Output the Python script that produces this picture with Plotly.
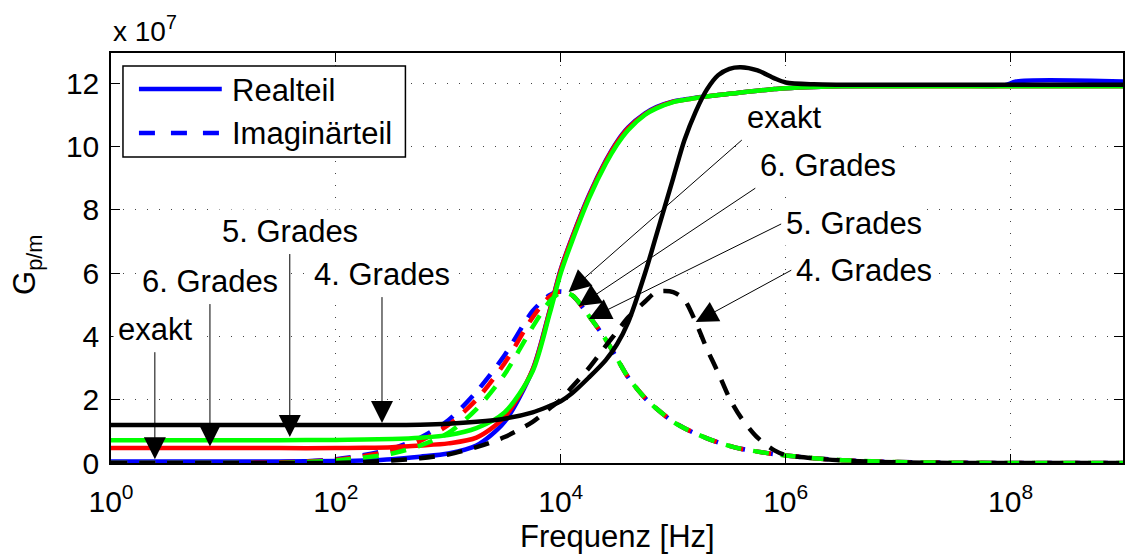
import plotly.graph_objects as go

# Frequency grid in Hz
freq = [1, 10, 31.6, 100, 178, 316, 562, 1000, 1778, 3162, 5623, 7943,
        10000, 12589, 17783, 25119, 31623, 39811, 56234, 70795, 100000,
        125893, 158489, 199526, 251189, 316228, 398107, 562341, 794328,
        1e6, 1.778e6, 3.162e6, 1e7, 3.162e7, 8.9e7, 1.12e8, 1e9]

# G_p/m in units of 1e7 -- real parts
real_exakt = [0.05, 0.05, 0.05, 0.06, 0.08, 0.12, 0.2, 0.3, 0.55, 1.3, 2.95, 4.8,
              6.12, 7.12, 8.45, 9.55, 10.15, 10.6, 11.04, 11.24, 11.42, 11.48, 11.54,
              11.58, 11.62, 11.66, 11.7, 11.76, 11.81, 11.84, 11.88, 11.9, 11.91,
              11.92, 11.93, 12.05, 12.05]
real_grad6 = [0.47, 0.47, 0.47, 0.47, 0.48, 0.5, 0.55, 0.62, 0.8, 1.45, 2.95, 4.78,
              6.1, 7.1, 8.42, 9.52, 10.12, 10.58, 11.02, 11.22, 11.41, 11.47, 11.53,
              11.58, 11.62, 11.66, 11.7, 11.76, 11.81, 11.84, 11.88, 11.9, 11.9,
              11.9, 11.9, 11.9, 11.9]
real_grad5 = [0.72, 0.72, 0.72, 0.73, 0.74, 0.76, 0.8, 0.88, 1.1, 1.6, 2.9, 4.7,
              6.0, 7.0, 8.35, 9.45, 10.05, 10.52, 11.0, 11.2, 11.4, 11.47, 11.53,
              11.58, 11.62, 11.66, 11.7, 11.76, 11.81, 11.84, 11.88, 11.9, 11.9,
              11.9, 11.9, 11.9, 11.9]
real_grad4 = [1.2, 1.2, 1.2, 1.2, 1.2, 1.2, 1.21, 1.24, 1.3, 1.4, 1.6, 1.8,
              1.95, 2.2, 2.7, 3.25, 3.75, 4.45, 6.0, 7.2, 9.0, 10.2, 11.1,
              11.8, 12.25, 12.45, 12.5, 12.4, 12.15, 12.02, 11.96, 11.95, 11.95,
              11.95, 11.95, 11.95, 11.95]

# G_p/m in units of 1e7 -- imaginary parts
imag_exakt = [0.0, 0.0, 0.02, 0.12, 0.25, 0.45, 0.8, 1.35, 2.25, 3.4, 4.8, 5.3,
              5.42, 5.3, 4.65, 3.9, 3.3, 2.7, 2.05, 1.72, 1.3, 1.1, 0.93,
              0.78, 0.65, 0.54, 0.45, 0.36, 0.28, 0.24, 0.15, 0.09, 0.03,
              0.01, 0.0, 0.0, 0.0]
imag_grad6 = [0.0, 0.0, 0.02, 0.1, 0.22, 0.4, 0.7, 1.2, 2.0, 3.15, 4.6, 5.25,
              5.42, 5.3, 4.65, 3.9, 3.3, 2.7, 2.05, 1.72, 1.3, 1.1, 0.93,
              0.78, 0.65, 0.54, 0.45, 0.36, 0.28, 0.24, 0.15, 0.09, 0.03,
              0.01, 0.0, 0.0, 0.0]
imag_grad5 = [0.0, 0.0, 0.0, 0.08, 0.17, 0.3, 0.55, 0.95, 1.7, 2.8, 4.3, 5.1,
              5.38, 5.3, 4.65, 3.9, 3.3, 2.7, 2.05, 1.72, 1.3, 1.1, 0.93,
              0.78, 0.65, 0.54, 0.45, 0.36, 0.28, 0.24, 0.15, 0.09, 0.03,
              0.01, 0.0, 0.0, 0.0]
imag_grad4 = [0.0, 0.0, 0.0, 0.0, 0.03, 0.08, 0.15, 0.27, 0.5, 0.82, 1.3, 1.72,
              2.0, 2.4, 3.0, 3.7, 4.15, 4.6, 5.1, 5.4, 5.4, 5.15, 4.45,
              3.6, 2.85, 2.05, 1.45, 0.8, 0.4, 0.25, 0.15, 0.08, 0.02,
              0.0, 0.0, 0.0, 0.0]

series = [
    ("exakt", "#0000ff", real_exakt, imag_exakt),
    ("6. Grades", "#ff0000", real_grad6, imag_grad6),
    ("5. Grades", "#00ff00", real_grad5, imag_grad5),
    ("4. Grades", "#000000", real_grad4, imag_grad4),
]

y_ticks = [0, 2, 4, 6, 8, 10, 12]
x_ticks = [1, 100, 1e4, 1e6, 1e8]
x_ticktext = ["10<sup>0</sup>", "10<sup>2</sup>", "10<sup>4</sup>",
              "10<sup>6</sup>", "10<sup>8</sup>"]

FONT = "Liberation Sans, Arial, Helvetica, sans-serif"
LW = 4.5
DASH = "16px,12px"

fig = go.Figure()
for name, color, re_vals, im_vals in series:
    fig.add_trace(go.Scatter(x=freq, y=re_vals, mode="lines", name=name,
                             line=dict(color=color, width=LW, shape="spline", smoothing=0.8),
                             showlegend=False))
    fig.add_trace(go.Scatter(x=freq, y=im_vals, mode="lines", name=name,
                             line=dict(color=color, width=LW, dash=DASH, shape="spline", smoothing=0.8),
                             showlegend=False))

axis_common = dict(
    showline=True, linecolor="black", linewidth=1.5, mirror="ticks",
    ticks="inside", ticklen=9, tickwidth=1.2, tickcolor="black",
    showgrid=True, gridcolor="#444444", gridwidth=1, griddash="1px,11px",
    zeroline=False, tickfont=dict(family=FONT, size=30, color="black"),
)

fig.update_xaxes(type="log", range=[0, 9], tickvals=x_ticks, ticktext=x_ticktext,
                 ticklabelstandoff=11, **axis_common)
fig.update_yaxes(range=[0, 12.95], tickvals=y_ticks, ticklabelstandoff=4, **axis_common)

annotations = []

# Labelled arrows: text, head (log10 f, value), tail (log10 f, value), box anchor at tail
arrow_labels = [
    ("exakt",     0.39, 0.12, 0.39, 3.5,   "center", "bottom"),
    ("6. Grades", 0.88, 0.52, 0.88, 5.02,  "center", "bottom"),
    ("5. Grades", 1.59, 0.82, 1.59, 6.6,   "center", "bottom"),
    ("4. Grades", 2.41, 1.26, 2.41, 5.24,  "center", "bottom"),
    ("exakt",     4.07, 5.4,  5.61, 10.2,  "left",   "bottom"),
    ("6. Grades", 4.16, 4.96, 5.73, 8.68,  "left",   "bottom"),
    ("5. Grades", 4.25, 4.55, 5.96, 7.55,  "left",   "middle"),
    ("4. Grades", 5.20, 4.45, 6.05, 6.09,  "left",   "middle"),
]
for txt, tx, ty, sx, sy, xa, ya in arrow_labels:
    annotations.append(dict(x=tx, y=ty, ax=sx, ay=sy, xref="x", yref="y",
                            axref="x", ayref="y", text=txt, showarrow=True,
                            xanchor=xa, yanchor=ya, bgcolor="white", borderpad=4,
                            arrowhead=2, arrowsize=4.4, arrowwidth=1.0,
                            arrowcolor="black", standoff=0,
                            font=dict(family=FONT, size=31, color="black")))

# Axis labels and exponent marker
annotations.append(dict(x=0.5, y=-0.18, xref="paper", yref="paper", text="Frequenz [Hz]",
                        showarrow=False, xanchor="center", yanchor="middle",
                        font=dict(family=FONT, size=31, color="black")))
annotations.append(dict(x=-0.083, y=0.483, xref="paper", yref="paper", text="G<sub>p/m</sub>",
                        showarrow=False, xanchor="center", yanchor="middle", textangle=-90,
                        font=dict(family=FONT, size=31, color="black")))
annotations.append(dict(x=0.0, y=1.0, xref="paper", yref="paper", text="x 10<sup>7</sup>",
                        showarrow=False, xanchor="left", yanchor="bottom", yshift=4,
                        font=dict(family=FONT, size=28, color="black")))

# Legend box drawn in paper coordinates
L, R, T, B = 111, 0, 53, 94
W = 1125.0 - L - R
H = 557.0 - T - B
def px_x(p):
    return (p - L) / W
def px_y(p):
    return (557 - B - p) / H

shapes = [
    dict(type="rect", xref="paper", yref="paper", x0=px_x(123), x1=px_x(406),
         y0=px_y(157), y1=px_y(66), fillcolor="white",
         line=dict(color="black", width=1.5), layer="above"),
    dict(type="line", xref="paper", yref="paper", x0=px_x(139), x1=px_x(222),
         y0=px_y(89), y1=px_y(89), line=dict(color="#0000ff", width=LW), layer="above"),
    dict(type="line", xref="paper", yref="paper", x0=px_x(139), x1=px_x(222),
         y0=px_y(133), y1=px_y(133), line=dict(color="#0000ff", width=LW, dash="16px,16px"),
         layer="above"),
]
annotations.append(dict(x=px_x(230), y=px_y(91), xref="paper", yref="paper", text="Realteil",
                        showarrow=False, xanchor="left", yanchor="middle",
                        font=dict(family=FONT, size=31, color="black")))
annotations.append(dict(x=px_x(230), y=px_y(133), xref="paper", yref="paper", text="Imaginärteil",
                        showarrow=False, xanchor="left", yanchor="middle",
                        font=dict(family=FONT, size=31, color="black")))

fig.update_layout(
    width=1125, height=557,
    margin=dict(l=L, r=R, t=T, b=B),
    plot_bgcolor="white", paper_bgcolor="white",
    showlegend=False,
    annotations=annotations, shapes=shapes,
    font=dict(family=FONT, size=30, color="black"),
)

fig.write_html("out.html")
